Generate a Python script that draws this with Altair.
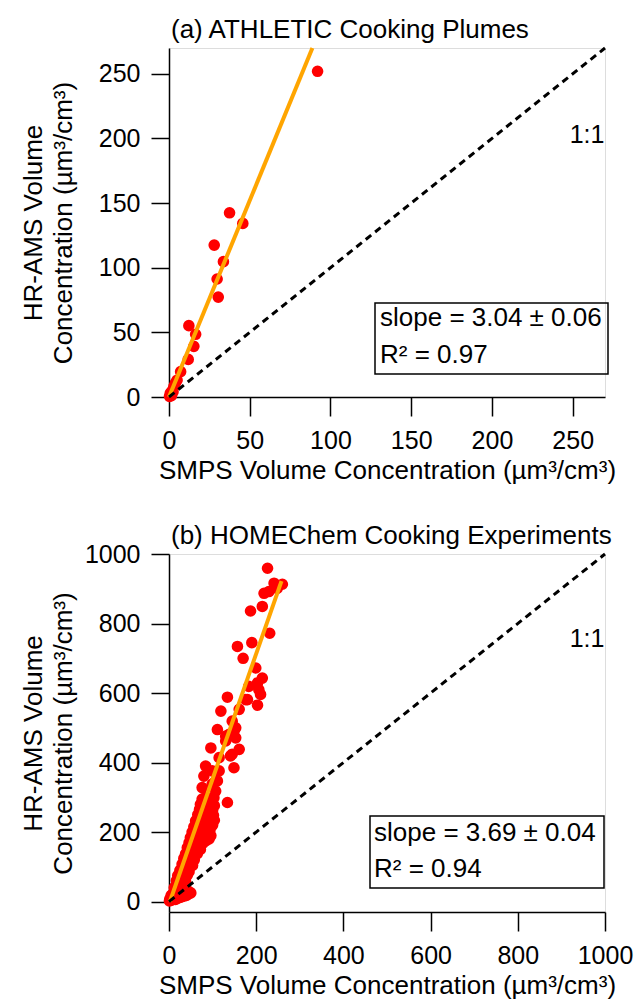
import altair as alt
import pandas as pd

FONT = "Liberation Sans"

# ---------------- Panel (a): ATHLETIC cooking plumes ----------------
a_smps = [92.0, 37.5, 45.7, 28.0, 33.7, 29.8, 30.5, 12.3, 16.5, 15.4, 11.9, 7.2,
          5.0, 4.0, 3.0, 2.0, 1.0, 0.3, 1.5, 0.8, 2.5]
a_ams = [252.0, 142.5, 134.3, 117.5, 104.7, 91.3, 77.3, 55.2, 48.5, 39.2, 29.1, 19.6,
         13.0, 11.0, 8.0, 5.0, 2.0, 0.5, 1.0, 3.0, 4.0]
a_fit_x = [0, 88.8]
a_fit_y = [0, 270]
a_one_x = [0, 270]
a_one_y = [0, 270]
a_xticks = [0, 50, 100, 150, 200, 250]
a_yticks = [0, 50, 100, 150, 200, 250]

# ---------------- Panel (b): HOMEChem cooking experiments ----------------
b_smps = [
    1, 3, 6, 10, 15, 20, 25, 30, 35, 40, 45, 50, 2, 8,
    5, 9, 13, 18, 24, 28, 33, 38, 44,
    12, 16, 20, 25, 30, 34,
    17, 21, 25, 29, 34, 38,
    20, 24, 28, 33, 37, 42,
    25, 29, 33, 38, 43, 46,
    30, 35, 40, 45, 50, 54,
    34, 39, 44, 49, 55, 58,
    38, 43, 49, 54, 60, 65,
    42, 48, 54, 60, 66, 72,
    46, 52, 58, 64, 70, 78, 85,
    49, 55, 62, 68, 74, 82, 92, 96,
    53, 59, 66, 72, 78, 86, 94,
    57, 64, 70, 76, 84, 92, 100,
    61, 68, 75, 82, 90, 98, 104,
    66, 72, 80, 88, 96, 102,
    70, 78, 86, 94, 100,
    72, 80, 88, 96, 104,
    76, 84, 92, 100,
    107, 103, 92, 134, 80, 84, 96, 111, 149, 161, 130, 149, 141, 115,
    76, 99, 111, 107, 145, 153, 138, 130, 115, 99,
    226, 241, 260, 248, 218, 229, 214, 187, 231, 157, 199, 214, 203, 183,
    206, 210, 203, 176, 134, 161, 119, 145, 153, 180, 170, 190,
]
b_ams = [
    2, 5, 4, 8, 6, 10, 12, 14, 16, 18, 22, 25, 8, 12,
    18, 22, 20, 24, 26, 30, 32, 35, 30,
    40, 44, 38, 42, 45, 40,
    60, 64, 58, 62, 66, 58,
    75, 80, 72, 78, 82, 76,
    90, 95, 88, 92, 96, 86,
    108, 114, 106, 112, 118, 104,
    124, 130, 122, 128, 132, 120,
    137, 142, 136, 140, 145, 138,
    155, 160, 152, 158, 162, 150,
    170, 175, 168, 172, 178, 168, 175,
    184, 190, 182, 188, 192, 186, 180, 190,
    200, 205, 198, 204, 210, 200, 206,
    215, 220, 214, 222, 218, 212, 220,
    232, 238, 230, 236, 240, 228, 234,
    250, 256, 248, 254, 258, 248,
    265, 270, 262, 268, 262,
    280, 285, 278, 282, 276,
    295, 300, 292, 298,
    318, 299, 290, 285, 361, 390, 442, 495, 385, 438, 476, 490, 419, 376,
    328, 338, 347, 347, 424, 471, 481, 462, 414, 376,
    959, 916, 913, 901, 887, 892, 849, 836, 772, 734, 672, 643, 629, 619,
    610, 596, 565, 581, 588, 553, 548, 519, 500, 581, 700, 745,
]
b_fit_x = [2, 258]
b_fit_y = [0, 922]
b_one_x = [0, 1000]
b_one_y = [0, 1000]
b_xticks = [0, 200, 400, 600, 800, 1000]
b_yticks = [0, 200, 400, 600, 800, 1000]

Y_TITLE = ["HR-AMS Volume", "Concentration (\u00b5m\u00b3/cm\u00b3)"]
X_TITLE = "SMPS Volume Concentration (\u00b5m\u00b3/cm\u00b3)"


def one_text(txt, x, y, size, align, baseline):
    return alt.Chart(pd.DataFrame({"t": [txt]})).mark_text(
        font=FONT, fontSize=size, color="black", align=align, baseline=baseline
    ).encode(text="t:N", x=alt.value(x), y=alt.value(y))


def panel(title, sx, sy, fx, fy, ox, oy, xdom, ydom, xticks, yticks, w, h,
          slope_txt, r2_txt, box, txt_x, base1, base2, one_pos):
    pts = pd.DataFrame({"x": sx, "y": sy})
    fit = pd.DataFrame({"x": fx, "y": fy})
    one = pd.DataFrame({"x": ox, "y": oy})

    xscale = alt.Scale(domain=xdom, nice=False, zero=False)
    yscale = alt.Scale(domain=ydom, nice=False, zero=False)

    xaxis = alt.Axis(values=xticks, format="d", grid=False, tickSize=19, tickWidth=1.5,
                     domainWidth=1.5, domainColor="black", tickColor="black",
                     labelFontSize=25, labelColor="black", labelPadding=12,
                     labelFlush=False, labelOverlap=False, labelFont=FONT,
                     title=X_TITLE, titleFontSize=26, titleFontWeight="normal",
                     titleColor="black", titleFont=FONT, titleX=w / 2, titleY=81,
                     titleBaseline="alphabetic", titleAlign="center")
    yaxis = alt.Axis(values=yticks, format="d", grid=False, tickSize=18, tickWidth=1.5,
                     domainWidth=1.5, domainColor="black", tickColor="black",
                     labelFontSize=25, labelColor="black", labelPadding=11,
                     labelFlush=False, labelOverlap=False, labelFont=FONT,
                     title=Y_TITLE, titleFontSize=26, titleFontWeight="normal",
                     titleColor="black", titleFont=FONT, titleX=-128, titleY=h / 2,
                     titleAngle=270, titleBaseline="alphabetic", titleAlign="center",
                     titleLineHeight=30)

    points = alt.Chart(pts).mark_circle(size=135, color="#ff0000", opacity=1).encode(
        x=alt.X("x:Q", scale=xscale, axis=xaxis),
        y=alt.Y("y:Q", scale=yscale, axis=yaxis),
    )
    fitline = alt.Chart(fit).mark_line(color="#ffa500", strokeWidth=4).encode(
        x=alt.X("x:Q", scale=xscale), y=alt.Y("y:Q", scale=yscale))
    oneline = alt.Chart(one).mark_line(color="black", strokeWidth=3,
                                        strokeDash=[7, 5]).encode(
        x=alt.X("x:Q", scale=xscale), y=alt.Y("y:Q", scale=yscale))

    rect = alt.Chart(pd.DataFrame({"k": [0]})).mark_rect(
        fill="white", fillOpacity=0, stroke="black", strokeWidth=1.5
    ).encode(x=alt.value(box[0]), x2=alt.value(box[1]),
             y=alt.value(box[2]), y2=alt.value(box[3]))

    return alt.layer(
        points, fitline, oneline,
        one_text("1:1", one_pos[0], one_pos[1], 25, "center", "middle"),
        rect,
        one_text(slope_txt, txt_x, base1, 26, "left", "alphabetic"),
        one_text(r2_txt, txt_x, base2, 26, "left", "alphabetic"),
        one_text(title, 2, -10, 26, "left", "alphabetic"),
    ).properties(width=w, height=h)


pa = panel("(a) ATHLETIC Cooking Plumes", a_smps, a_ams, a_fit_x, a_fit_y,
           a_one_x, a_one_y, [0, 270], [0, 270], a_xticks, a_yticks, 436, 349,
           "slope = 3.04 \u00b1 0.06", "R\u00b2 = 0.97",
           (206, 439, 255, 326), 211, 278, 315, (418, 87))
pb = panel("(b) HOMEChem Cooking Experiments", b_smps, b_ams, b_fit_x, b_fit_y,
           b_one_x, b_one_y, [0, 1000], [-30, 1000], b_xticks, b_yticks, 436, 358,
           "slope = 3.69 \u00b1 0.04", "R\u00b2 = 0.94",
           (201, 435, 262, 334), 205, 287, 323, (418, 85))

chart = alt.vconcat(pa, pb, spacing=157, bounds="flush").properties(
    padding={"left": 19, "top": 16, "right": 2, "bottom": 2},
    background="white",
).configure_view(stroke=None).configure(font=FONT)

chart.save("out.html", embed_options={"renderer": "svg", "actions": False})
